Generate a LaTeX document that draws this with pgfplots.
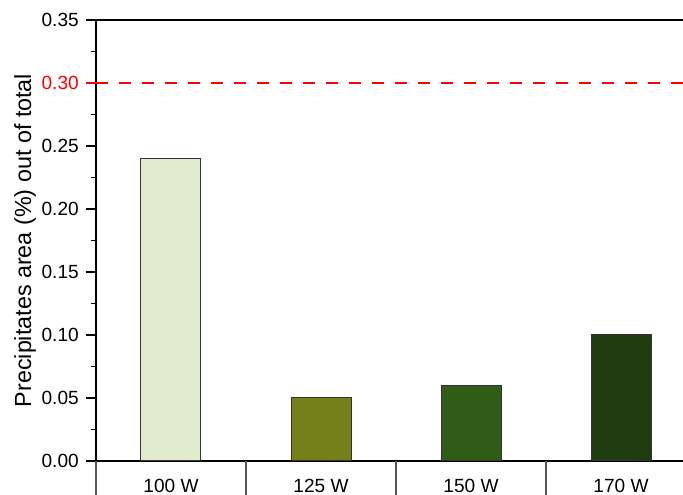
\documentclass[border=0pt]{standalone}
\usepackage{pgfplots}
\pgfplotsset{compat=1.18}
\usepackage{fontspec}
\setmainfont{Liberation Sans}
\definecolor{c1}{HTML}{E0EACD}
\definecolor{c2}{HTML}{748019}
\definecolor{c3}{HTML}{305C17}
\definecolor{c4}{HTML}{1F3D11}
\definecolor{sep}{HTML}{555555}
\begin{document}
\begin{tikzpicture}
\begin{axis}[
  scale only axis,
  width=450pt, height=330.75pt,
  xmin=-0.5, xmax=3.5, ymin=0, ymax=0.35,
  axis line style={line width=1pt, black},
  tick align=outside,
  xtick pos=bottom, ytick pos=left,
  xtick={0,1,2,3},
  xticklabels={100 W,125 W,150 W,170 W},
  xtick style={draw=none},
  xticklabel style={font=\fontsize{14.3}{16}\selectfont, inner sep=0pt, anchor=north, yshift=-6pt},
  extra x ticks={-0.5,0.5,1.5,2.5,3.5},
  extra x tick labels={},
  extra x tick style={major tick length=30pt, xtick style={draw=sep, line width=0.8pt}},
  ytick={0,0.05,0.1,0.15,0.2,0.25,0.3,0.35},
  yticklabels={0.00,0.05,0.10,0.15,0.20,0.25,,0.35},
  minor y tick num=1,
  major tick length=7.5pt,
  minor tick length=3.75pt,
  ytick style={line width=0.8pt, black},
  yticklabel style={font=\fontsize{14.3}{16}\selectfont, inner sep=0pt, xshift=-5.25pt},
  extra y ticks={0.3},
  extra y tick labels={0.30},
  extra y tick style={ytick style={draw=red, line width=0.8pt}, yticklabel style={text=red}},
  ylabel={Precipitates area (\%) out of total},
  ylabel style={font=\fontsize{17.5}{20}\selectfont, at={(rel axis cs:-0.118333,0.5)}, anchor=center},
  ybar, bar width=0.4, bar shift=0pt,
  clip=false,
]
\addplot[fill=c1, draw=black!80, line width=0.75pt] coordinates {(0,0.24)};
\addplot[fill=c2, draw=black!80, line width=0.75pt] coordinates {(1,0.05)};
\addplot[fill=c3, draw=black!80, line width=0.75pt] coordinates {(2,0.06)};
\addplot[fill=c4, draw=black!80, line width=0.75pt] coordinates {(3,0.10)};
\addplot[sharp plot, red, line width=1.5pt, dash pattern=on 9pt off 8.25pt] coordinates {(-0.5,0.3) (3.5,0.3)};
\coordinate (bl) at (rel axis cs:0,0);
\end{axis}
\pgfresetboundingbox
\path ([shift={(-72pt,-25.5pt)}]bl) rectangle ([shift={(440.25pt,345.75pt)}]bl);
\end{tikzpicture}
\end{document}
